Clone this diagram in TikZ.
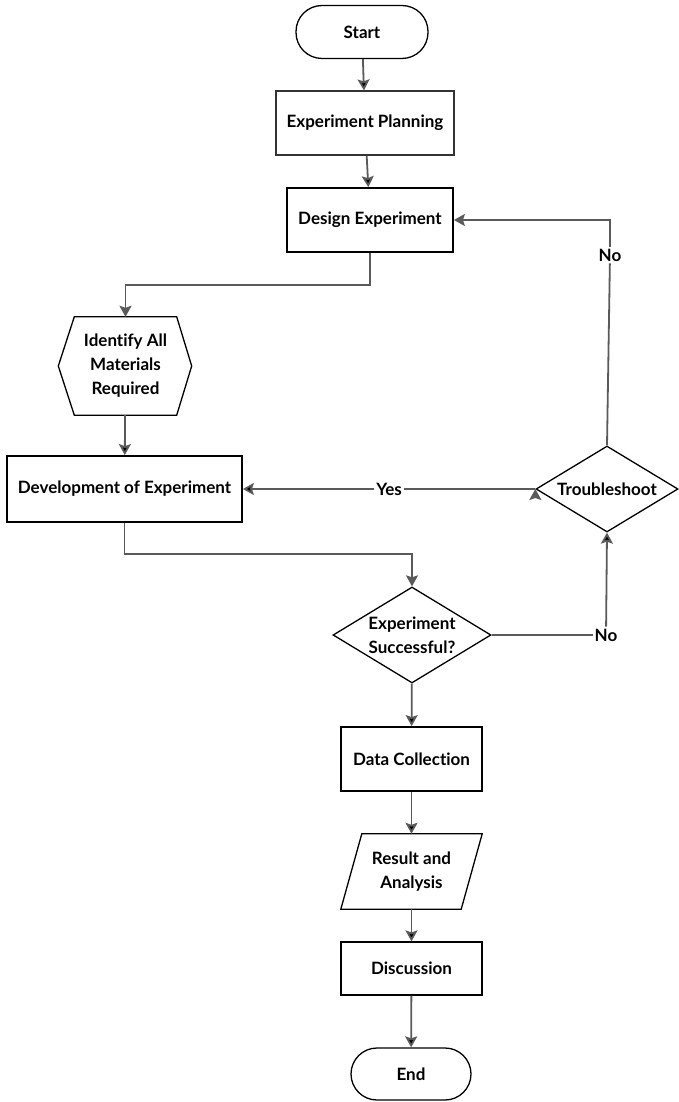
\documentclass[tikz,border=0pt]{standalone}
\usepackage{fontspec}
\setmainfont{Lato}[Ligatures=CommonOff]
\usepackage{tikz}
\usetikzlibrary{arrows.meta, positioning, shapes.geometric}
\usepackage{xcolor}
\definecolor{linegray}{HTML}{5A5A5A}

\begin{document}
\begin{tikzpicture}[x=1pt,y=-1pt,>={Stealth[length=11pt,width=12pt,inset=2pt]},
    font=\fontsize{17}{24}\selectfont\bfseries]
    \tikzstyle{term}=[draw=black,line width=1.3pt,rounded corners=26pt,minimum height=53pt]
    \tikzstyle{proc}=[draw=black,line width=1.2pt,minimum height=64pt]
    \tikzstyle{procb}=[draw=black,line width=1.8pt,minimum height=64pt]
    \tikzstyle{decision}=[draw=black,line width=1.3pt,shape=diamond,aspect=1.65,inner sep=0pt,align=center]
    \tikzstyle{answer}=[fill=white,inner sep=2pt]
    \tikzstyle{flow}=[draw=linegray,line width=1.8pt]

    \useasboundingbox (0,0) rectangle (678,1102);

    \node[term,minimum width=132pt] (start) at (362,32) {Start};
    \node[proc,minimum width=178pt,draw=black!80] (plan) at (365,123) {Experiment Planning};
    \node[procb,minimum width=166pt] (design) at (370,220) {Design Experiment};
    \node[minimum width=102pt,minimum height=98pt,align=center] (ident) at (125.5,366)
        {Identify All\\Materials\\Required};
    \draw[black,line width=1.3pt] (ident.north west) -- (ident.north east)
        -- ([xshift=15pt]ident.east) -- (ident.south east) -- (ident.south west)
        -- ([xshift=-16pt]ident.west) -- cycle;
    \node[procb,minimum width=235pt,minimum height=66pt] (devel) at (124.5,489) {Development of Experiment};
    \node[decision,minimum width=142pt,minimum height=86pt] (trouble) at (607,489) {Troubleshoot};
    \node[decision,minimum width=158pt,minimum height=96pt] (succ) at (412,635) {Experiment\\Successful?};
    \node[procb,minimum width=141pt] (data) at (411.5,759) {Data Collection};
    \node[minimum width=120pt,minimum height=75pt,align=center] (result) at (411.5,871.5)
        {Result and\\Analysis};
    \draw[black,line width=1.3pt] ([xshift=10.5pt]result.north west) -- ([xshift=10.5pt]result.north east)
        -- ([xshift=-10.5pt]result.south east) -- ([xshift=-10.5pt]result.south west) -- cycle;
    \node[proc,minimum width=141pt,minimum height=53pt] (disc) at (411.5,968.5) {Discussion};
    \node[term,minimum width=120pt,minimum height=52pt] (end) at (411,1074) {End};

    \coordinate (j1) at (125.5,285);
    \coordinate (j2) at (412,554);
    \node[answer] (noB) at (606,635) {No};
    \node[answer] (noA) at (610,255) {No};

    \path[->,flow]
    (start) edge (plan)
    (plan) edge (design)
    (ident) edge (devel)
    (trouble.west) edge node[answer] {Yes} (devel.east)
    (noB) edge (trouble.south)
    (succ) edge (data)
    (data) edge (result)
    (result) edge (disc)
    (disc) edge (end)
    ;
    \draw[->,flow] (design.south) |- (j1) -- (ident.north);
    \draw[->,flow] (devel.south) |- (j2) -- (succ.north);
    \draw[flow] (succ.east) -- (noB);
    \draw[flow] (trouble.north) -- (noA);
    \draw[->,flow] (noA) |- (design.east);
\end{tikzpicture}
\end{document}
